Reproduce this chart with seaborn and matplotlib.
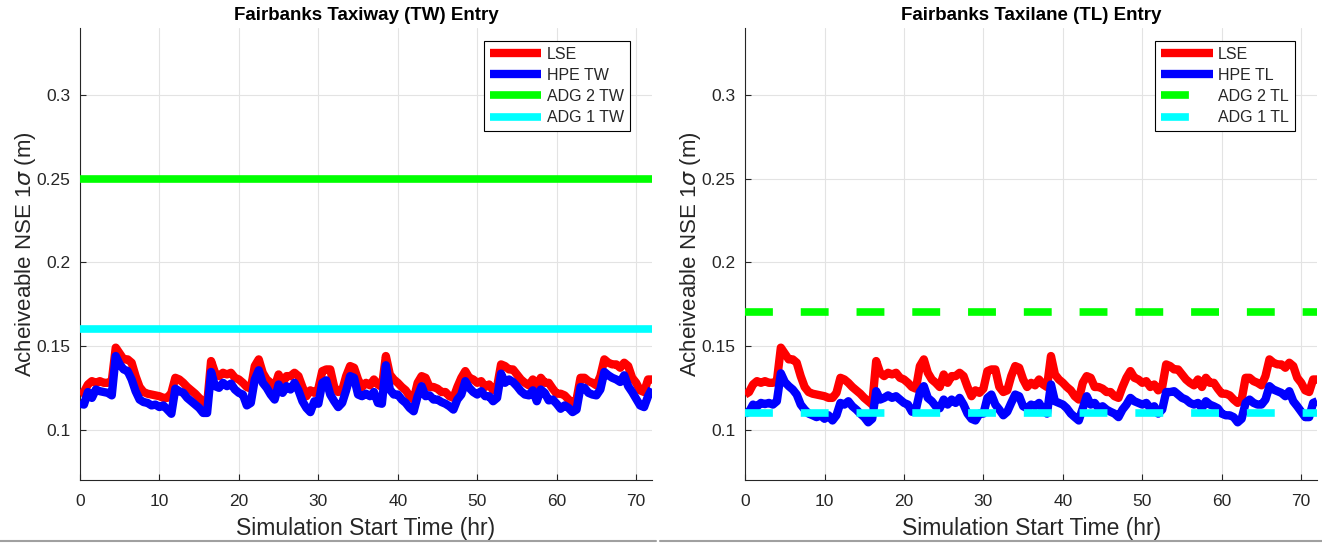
import numpy as np
import pandas as pd
import matplotlib
matplotlib.use("Agg")
import matplotlib.pyplot as plt
import seaborn as sns
from matplotlib.lines import Line2D

# ---------------- data ----------------
time_hr = np.arange(0, 72.5, 0.5)

lse = [0.121, 0.1225, 0.127, 0.129, 0.128, 0.129, 0.128, 0.128, 0.129, 0.149,
       0.1455, 0.142, 0.142, 0.140, 0.132, 0.1255, 0.1225, 0.1215, 0.121, 0.1205,
       0.120, 0.119, 0.119, 0.122, 0.131, 0.130, 0.128, 0.1255, 0.1235, 0.1215,
       0.119, 0.117, 0.115, 0.141, 0.134, 0.132, 0.134, 0.133, 0.134, 0.131,
       0.130, 0.128, 0.1255, 0.1245, 0.138, 0.142, 0.134, 0.130, 0.128, 0.1255,
       0.133, 0.128, 0.132, 0.132, 0.134, 0.132, 0.1255, 0.120, 0.1235, 0.122,
       0.1245, 0.135, 0.136, 0.136, 0.1255, 0.1225, 0.1235, 0.132, 0.138, 0.137,
       0.130, 0.1255, 0.128, 0.1265, 0.130, 0.127, 0.1255, 0.144, 0.133, 0.130,
       0.128, 0.1255, 0.1235, 0.120, 0.118, 0.128, 0.132, 0.131, 0.1255, 0.1255,
       0.1245, 0.1225, 0.1225, 0.120, 0.119, 0.1255, 0.131, 0.135, 0.131, 0.130,
       0.128, 0.129, 0.1255, 0.127, 0.1235, 0.1255, 0.139, 0.138, 0.136, 0.136,
       0.133, 0.130, 0.128, 0.1265, 0.130, 0.1255, 0.131, 0.128, 0.128, 0.1245,
       0.1215, 0.1215, 0.1205, 0.118, 0.116, 0.118, 0.131, 0.131, 0.129, 0.128,
       0.1265, 0.132, 0.142, 0.140, 0.139, 0.139, 0.137, 0.140, 0.138, 0.131,
       0.128, 0.1235, 0.1225, 0.130, 0.130]

hpe_tw = [0.1155, 0.115, 0.1225, 0.119, 0.124, 0.123, 0.1225, 0.122, 0.1205, 0.144,
          0.139, 0.136, 0.135, 0.130, 0.123, 0.118, 0.1165, 0.116, 0.1145, 0.115,
          0.1135, 0.1145, 0.112, 0.1095, 0.1245, 0.123, 0.122, 0.119, 0.117, 0.115,
          0.113, 0.110, 0.110, 0.1345, 0.126, 0.125, 0.128, 0.126, 0.1275, 0.124,
          0.122, 0.121, 0.1145, 0.116, 0.130, 0.1355, 0.128, 0.125, 0.121, 0.118,
          0.127, 0.122, 0.126, 0.124, 0.128, 0.1235, 0.117, 0.113, 0.1105, 0.117,
          0.1155, 0.128, 0.1295, 0.121, 0.117, 0.1135, 0.116, 0.1235, 0.132, 0.131,
          0.121, 0.120, 0.1215, 0.120, 0.1225, 0.116, 0.1155, 0.1385, 0.124, 0.121,
          0.121, 0.118, 0.116, 0.113, 0.111, 0.120, 0.126, 0.120, 0.1205, 0.118,
          0.118, 0.1165, 0.1155, 0.114, 0.112, 0.118, 0.121, 0.129, 0.125, 0.1225,
          0.121, 0.123, 0.120, 0.120, 0.117, 0.119, 0.1335, 0.128, 0.130, 0.1285,
          0.126, 0.123, 0.121, 0.1205, 0.1235, 0.117, 0.124, 0.122, 0.1175, 0.118,
          0.1155, 0.1125, 0.1145, 0.113, 0.1105, 0.112, 0.1255, 0.125, 0.122, 0.121,
          0.1205, 0.124, 0.1345, 0.1325, 0.131, 0.130, 0.1285, 0.1325, 0.126, 0.1225,
          0.1185, 0.1145, 0.1135, 0.120, 0.1245]

hpe_tl = [0.1096, 0.1107, 0.115, 0.1138, 0.116, 0.1153, 0.116, 0.115, 0.117, 0.1337,
          0.1285, 0.126, 0.124, 0.121, 0.115, 0.112, 0.1096, 0.1086, 0.1075, 0.1086,
          0.1065, 0.1086, 0.1055, 0.1086, 0.116, 0.115, 0.117, 0.114, 0.112, 0.1096,
          0.1075, 0.1044, 0.1065, 0.123, 0.118, 0.119, 0.1205, 0.119, 0.120, 0.118,
          0.116, 0.115, 0.1107, 0.112, 0.1225, 0.126, 0.119, 0.117, 0.114, 0.1128,
          0.118, 0.115, 0.118, 0.116, 0.119, 0.115, 0.1096, 0.1065, 0.1055, 0.1096,
          0.1096, 0.119, 0.121, 0.115, 0.112, 0.1086, 0.1107, 0.116, 0.121, 0.120,
          0.114, 0.1128, 0.115, 0.114, 0.116, 0.112, 0.1096, 0.127, 0.117, 0.116,
          0.115, 0.1128, 0.1096, 0.1075, 0.1055, 0.1128, 0.120, 0.115, 0.116, 0.1128,
          0.114, 0.112, 0.1107, 0.1096, 0.1075, 0.112, 0.115, 0.119, 0.117, 0.116,
          0.115, 0.116, 0.1128, 0.114, 0.1096, 0.112, 0.1225, 0.1225, 0.123, 0.121,
          0.119, 0.118, 0.116, 0.115, 0.116, 0.1128, 0.117, 0.115, 0.114, 0.1128,
          0.1096, 0.1086, 0.1086, 0.1075, 0.1044, 0.1065, 0.116, 0.118, 0.116, 0.115,
          0.115, 0.118, 0.126, 0.124, 0.123, 0.122, 0.120, 0.123, 0.117, 0.114,
          0.1107, 0.1075, 0.1075, 0.116, 0.117]

adg2_tw = 0.25
adg1_tw = 0.16
adg2_tl = 0.17
adg1_tl = 0.11

titles = ["Fairbanks Taxiway (TW) Entry", "Fairbanks Taxilane (TL) Entry"]
hpe_labels = ["HPE TW", "HPE TL"]
adg2_labels = ["ADG 2 TW", "ADG 2 TL"]
adg1_labels = ["ADG 1 TW", "ADG 1 TL"]
x_ticks = [0, 10, 20, 30, 40, 50, 60, 70]
y_ticks = [0.1, 0.15, 0.2, 0.25, 0.3]
y_tick_labels = ["0.1", "0.15", "0.2", "0.25", "0.3"]

assert len(lse) == len(time_hr) == len(hpe_tw) == len(hpe_tl)

# ---------------- style ----------------
sns.set_theme(style="white")
plt.rcParams["font.family"] = ["Liberation Sans", "DejaVu Sans"]
plt.rcParams["mathtext.fontset"] = "dejavusans"

RED, BLUE, GREEN, CYAN = "#FF0000", "#0000FF", "#00FF00", "#00FFFF"
TXT = "#262626"

fig = plt.figure(figsize=(13.22, 5.46), dpi=100)
fig.patch.set_facecolor("white")
axes = [fig.add_axes([0.0605, 0.121, 0.4327, 0.828]),
        fig.add_axes([0.5636, 0.121, 0.4327, 0.828])]

panels = [
    (hpe_tw, adg2_tw, adg1_tw, "-"),
    (hpe_tl, adg2_tl, adg1_tl, "--"),
]

for i, (ax, (hpe, adg2, adg1, ls)) in enumerate(zip(axes, panels)):
    df = pd.DataFrame({"t": time_hr, "LSE": lse, "HPE": hpe})
    sns.lineplot(data=df, x="t", y="LSE", ax=ax, color=RED, lw=6,
                 solid_joinstyle="round", solid_capstyle="butt", zorder=3)
    sns.lineplot(data=df, x="t", y="HPE", ax=ax, color=BLUE, lw=6,
                 solid_joinstyle="round", solid_capstyle="butt", zorder=4)
    lw_thr = 5.5
    if ls == "-":
        ax.axhline(adg2, color=GREEN, lw=lw_thr, solid_capstyle="butt", zorder=5)
        ax.axhline(adg1, color=CYAN, lw=lw_thr, solid_capstyle="butt", zorder=5)
        dash_kw = {}
    else:
        dash_kw = dict(dashes=(3.65, 3.65))
        ax.axhline(adg2, color=GREEN, lw=lw_thr, linestyle="--",
                   dash_capstyle="butt", zorder=5, **dash_kw)
        ax.axhline(adg1, color=CYAN, lw=lw_thr, linestyle="--",
                   dash_capstyle="butt", zorder=5, **dash_kw)

    ax.set_xlim(0, 72)
    ax.set_ylim(0.07, 0.34)
    ax.set_xticks(x_ticks)
    ax.set_yticks(y_ticks)
    ax.set_yticklabels(y_tick_labels)
    ax.grid(True, color="#E3E3E3", lw=0.8, zorder=0)
    ax.set_axisbelow(True)
    for s in ["top", "right"]:
        ax.spines[s].set_visible(False)
    for s in ["left", "bottom"]:
        ax.spines[s].set_color(TXT)
        ax.spines[s].set_linewidth(0.8)
    ax.tick_params(axis="both", direction="in", length=4, width=0.8,
                   colors=TXT, labelsize=12.5, left=True, bottom=True)
    ax.tick_params(axis="x", pad=10)
    ax.tick_params(axis="y", pad=7)
    ax.set_xlabel("Simulation Start Time (hr)", fontsize=16.5, color=TXT, labelpad=6)
    ax.set_ylabel(r"Acheiveable NSE 1$\sigma$ (m)", fontsize=16, color=TXT, labelpad=-1)
    ax.set_title(titles[i], fontsize=13.5, fontweight="bold", color="black", pad=6)

    handles = [
        Line2D([], [], color=RED, lw=6, solid_capstyle="butt"),
        Line2D([], [], color=BLUE, lw=6, solid_capstyle="butt"),
        Line2D([], [], color=GREEN, lw=lw_thr, linestyle=ls, dash_capstyle="butt",
               solid_capstyle="butt", **dash_kw),
        Line2D([], [], color=CYAN, lw=lw_thr, linestyle=ls, dash_capstyle="butt",
               solid_capstyle="butt", **dash_kw),
    ]
    leg = ax.legend(handles, ["LSE", hpe_labels[i], adg2_labels[i], adg1_labels[i]],
                    loc="upper right", bbox_to_anchor=(0.962, 0.972),
                    fontsize=11.5, frameon=True, fancybox=False, framealpha=1,
                    edgecolor="black", handlelength=3.2, handletextpad=0.35,
                    labelspacing=0.38, borderpad=0.4, borderaxespad=0.0)
    leg.get_frame().set_linewidth(0.8)
    for txt in leg.get_texts():
        txt.set_color(TXT)

# screenshot bottom border lines
fig.add_artist(Line2D([0.0, 0.496], [0.009, 0.009], color="#A0A0A0", lw=1.5,
                      transform=fig.transFigure))
fig.add_artist(Line2D([0.499, 1.0], [0.009, 0.009], color="#A0A0A0", lw=1.5,
                      transform=fig.transFigure))

fig.savefig("out.png", dpi=100, facecolor="white")
